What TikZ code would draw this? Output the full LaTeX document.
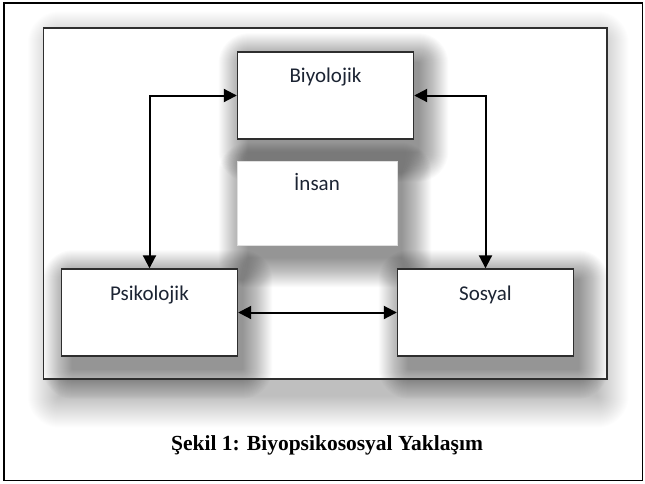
\documentclass[tikz,border=0pt]{standalone}
\usepackage{fontspec}
\setmainfont{Carlito}
\newfontfamily\capfont{Liberation Serif}
\usetikzlibrary{arrows.meta}
\pgfdeclarelayer{back}
\pgfdeclarelayer{mid}
\pgfsetlayers{back,mid,main}
\definecolor{boxline}{HTML}{2E2E2E}
\definecolor{lbltext}{HTML}{1C2433}
\newcommand\softshade[6]{% node, dx, dy, steps, alpha, horizontal inset
  \foreach \r in {1,...,#4}{
    \fill[black,opacity=#5,rounded corners=\r pt]
      ([shift={(#2+#6-\r,#3+\r)}]#1.south west) rectangle ([shift={(#2-#6+\r,#3-\r)}]#1.north east);
  }}
\tikzset{
  pxgrid/.style={x=1pt,y=-1pt},
  frame/.style={draw=black,line width=1.4pt},
  panel/.style={draw=boxline,line width=1.4pt,minimum width=563.5pt,minimum height=351pt,inner sep=0pt},
  box/.style={draw=boxline,line width=1.4pt,fill=white,minimum width=176pt,minimum height=87pt,inner sep=0pt},
  plainbox/.style={fill=white,draw=black!12,line width=0.6pt,minimum width=160pt,minimum height=84pt,inner sep=0pt},
  lbl/.style={anchor=base,inner sep=0pt,text=lbltext,font=\fontsize{21}{24}\selectfont},
  arr/.style={line width=2pt,{Triangle[length=13pt,width=13pt]}-{Triangle[length=13pt,width=13pt]}},
  captext/.style={anchor=base,inner sep=0pt,font=\capfont\bfseries\fontsize{21.5}{24}\selectfont}
}
\begin{document}
\begin{tikzpicture}[pxgrid]
\useasboundingbox (0,0) rectangle (645,483);
\draw[frame] (4,3) rectangle (642.5,480.5);
\node[panel] (pan) at (325.25,203.5) {};
\node[box] (bio) at (325.5,95.5) {};
\node[plainbox] (ins) at (317,203) {};
\node[box] (psi) at (149.5,312.5) {};
\node[box] (sos) at (485.5,312.5) {};
\begin{pgfonlayer}{back}
  \fill[white] (0,0) rectangle (645,483);
  \softshade{pan}{3}{16}{32}{0.008}{14}
\end{pgfonlayer}
\begin{pgfonlayer}{mid}
  \fill[white] (pan.north west) rectangle (pan.south east);
  \softshade{bio}{8}{12}{30}{0.016}{4}
  \softshade{ins}{8}{12}{30}{0.016}{4}
  \softshade{psi}{8}{12}{30}{0.016}{4}
  \softshade{sos}{8}{12}{30}{0.016}{4}
\end{pgfonlayer}
\node[lbl] (biot) at (325.5,82) {Biyolojik};
\node[lbl] (inst) at (317,190) {İnsan};
\node[lbl] (psit) at (149.5,300) {Psikolojik};
\node[lbl] (sost) at (485.5,300) {Sosyal};
\draw[arr] (psi.north) |- (bio.west);
\draw[arr] (sos.north) |- (bio.east);
\draw[arr] (psi.east) -- (sos.west);
\node[captext] (cap) at (327,450) {Şekil 1: Biyopsikososyal Yaklaşım};
\end{tikzpicture}
\end{document}
